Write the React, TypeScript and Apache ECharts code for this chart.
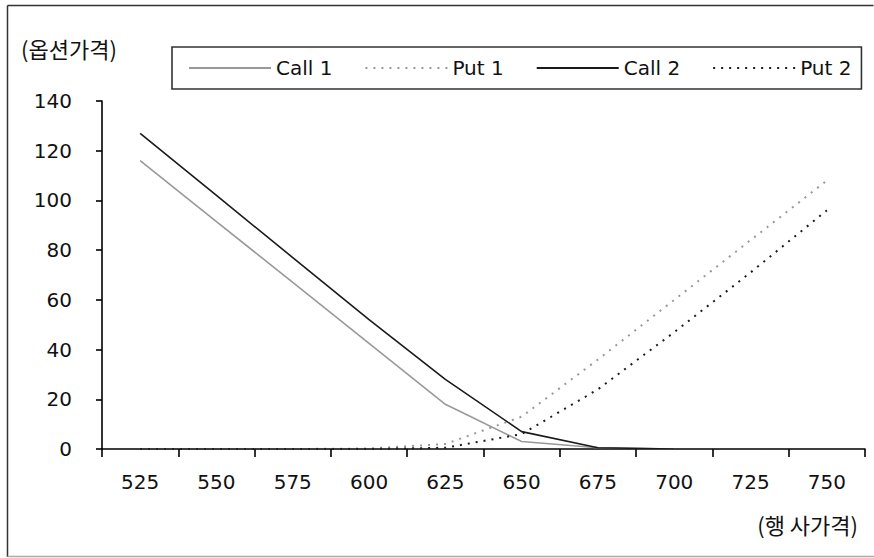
import React, { useEffect, useRef } from "react";
import * as echarts from "echarts";

const strikes = ["525", "550", "575", "600", "625", "650", "675", "700", "725", "750"];
const call1 = [116, 91.5, 67, 42.5, 18, 3, 0.5, 0, null, null];
const put1 = [0, 0, 0, 0.2, 2, 13, 36, 60, 84, 108];
const call2 = [127, 102, 77, 52, 28, 7, 0.5, 0, null, null];
const put2 = [0, 0, 0, 0, 0.5, 6, 24, 47, 71, 96];
const yTicks = { min: 0, max: 140, interval: 20 };
const yTitle = "(옵션가격)";
const xTitle = "(행 사가격)";

const FONT = "'DejaVu Sans', 'Noto Sans CJK KR', sans-serif";
const KFONT = "'Noto Sans CJK KR', 'DejaVu Sans', sans-serif";

export default function App() {
  const ref = useRef<HTMLDivElement>(null);
  useEffect(() => {
    if (!ref.current) return;
    const chart = echarts.init(ref.current, null, { renderer: "svg" });
    const lineSeries = (name: string, data: any[], color: string, dotted: boolean) => ({
      name,
      type: "line",
      data,
      symbol: "none",
      showSymbol: false,
      connectNulls: false,
      lineStyle: { color, width: dotted ? 2 : 1.6, type: dotted ? [2, 6] : "solid" },
      itemStyle: { color },
    });
    chart.setOption({
      animation: false,
      backgroundColor: "#ffffff",
      grid: { left: 102, right: 9, top: 101, bottom: 109, containLabel: false },
      legend: {
        left: 172,
        top: 47,
        padding: [11, 10, 11, 16],
        itemGap: 32,
        itemWidth: 82,
        itemHeight: 14,
        borderColor: "#333",
        borderWidth: 1.6,
        itemStyle: { opacity: 0 },
        textStyle: { fontFamily: FONT, fontSize: 20, color: "#111" },
        data: ["Call 1", "Put 1", "Call 2", "Put 2"],
      },
      xAxis: {
        type: "category",
        data: strikes,
        boundaryGap: true,
        axisLine: { lineStyle: { color: "#000", width: 1.6 } },
        axisTick: { show: true, interval: 0, length: 8, lineStyle: { color: "#000", width: 1.6 } },
        axisLabel: { fontFamily: FONT, fontSize: 20, color: "#111", margin: 23, interval: 0 },
        splitLine: { show: false },
      },
      yAxis: {
        type: "value",
        min: yTicks.min,
        max: yTicks.max,
        interval: yTicks.interval,
        axisLine: { show: true, lineStyle: { color: "#000", width: 1.6 } },
        axisTick: { show: true, length: 6, lineStyle: { color: "#000", width: 1.6 } },
        axisLabel: { fontFamily: FONT, fontSize: 20, color: "#111", margin: 30 },
        splitLine: { show: false },
      },
      graphic: [
        { type: "line", shape: { x1: 7.5, y1: 5.5, x2: 873.5, y2: 5.5 }, style: { stroke: "#333", lineWidth: 1.5 } },
        { type: "line", shape: { x1: 7.5, y1: 5.5, x2: 7.5, y2: 557 }, style: { stroke: "#333", lineWidth: 1.5 } },
        { type: "line", shape: { x1: 7.5, y1: 556.5, x2: 874, y2: 556.5 }, style: { stroke: "#aaa", lineWidth: 1.5 } },
        {
          type: "text",
          left: 21,
          top: 37,
          style: { text: yTitle, fontFamily: KFONT, fontSize: 22, fill: "#111" },
        },
        {
          type: "text",
          right: 16,
          top: 513,
          style: { text: xTitle, fontFamily: KFONT, fontSize: 22, fill: "#111" },
        },
      ],
      series: [
        lineSeries("Call 1", call1, "#999999", false),
        lineSeries("Put 1", put1, "#999999", true),
        lineSeries("Call 2", call2, "#1a1a1a", false),
        lineSeries("Put 2", put2, "#1a1a1a", true),
      ],
    });
    return () => chart.dispose();
  }, []);
  return (
    <div
      ref={ref}
      style={{ position: "fixed", left: 0, top: 0, width: 874, height: 558, background: "#fff" }}
    />
  );
}
